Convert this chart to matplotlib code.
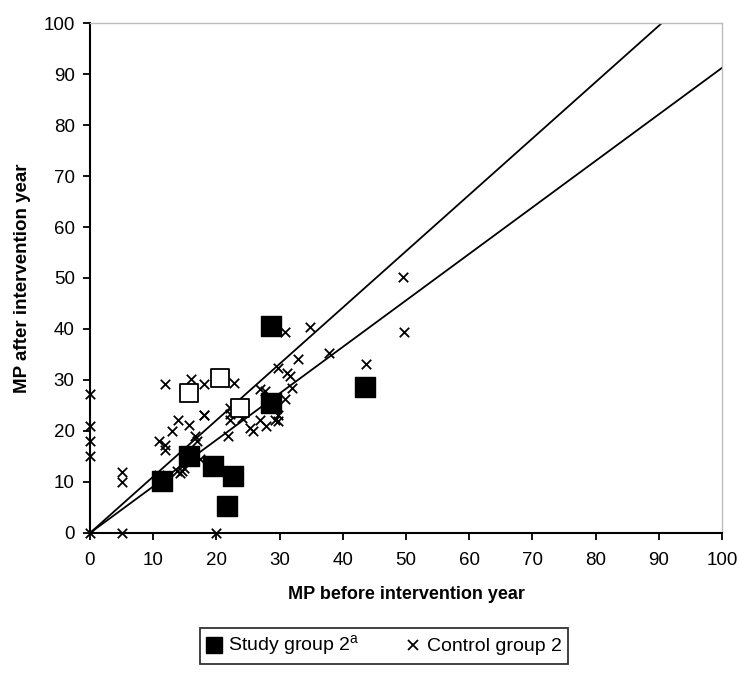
import matplotlib
matplotlib.use("Agg")
import matplotlib.pyplot as plt
from matplotlib.lines import Line2D

plt.rcParams['font.family'] = ['Liberation Sans', 'DejaVu Sans']

# Study group 2 (filled squares)
study_x = [11.4, 15.7, 19.4, 22.6, 21.7, 28.6, 28.6, 43.5]
study_y = [10.2, 15.1, 13.2, 11.2, 5.3, 25.5, 40.6, 28.6]

# Open squares
open_x = [15.6, 20.6, 23.8]
open_y = [27.5, 30.3, 24.5]

# Control group 2 (crosses)
ctrl_x = [0, 0, 0, 0, 0, 5, 5, 5, 20,
          10.9, 11.9, 11.9, 12.9, 13.9, 15.7, 18.0, 16.6, 16.9,
          13.7, 14.5, 14.8, 14.2, 17.4, 10.9,
          11.8, 16.0, 18.0, 22.8,
          18.0, 22.2, 22.2, 22.2, 24.0, 25.3, 25.8, 26.9, 27.9,
          29.2, 29.8, 29.8, 21.9, 26.9, 27.7, 30.9, 31.9,
          29.8, 31.1, 31.6, 32.9, 37.8, 30.9, 34.8, 43.7, 49.7, 49.6]
ctrl_y = [0, 15.0, 18.0, 20.9, 27.3, 0, 10.0, 12.0, 0,
          18.1, 17.3, 16.3, 19.9, 22.1, 21.1, 23.2, 19.0, 18.0,
          12.1, 12.1, 12.7, 11.8, 14.5, 11.4,
          29.3, 30.1, 29.3, 29.4,
          23.2, 24.5, 23.3, 22.2, 22.6, 20.6, 19.9, 22.2, 20.9,
          22.2, 23.2, 21.9, 19.0, 28.3, 27.8, 26.2, 28.5,
          32.4, 31.4, 30.8, 34.1, 35.2, 39.4, 40.4, 33.1, 39.4, 50.2]

line_slopes = [1.105, 0.912]

xticks = list(range(0, 101, 10))
yticks = list(range(0, 101, 10))

fig = plt.figure(figsize=(7.4, 6.75), dpi=100)
ax = fig.add_axes([0.1216, 0.2104, 0.854, 0.7555])

for s in line_slopes:
    ax.axline((0, 0), slope=s, color='black', lw=1.3, zorder=2)

ax.scatter(ctrl_x, ctrl_y, marker='x', s=46, color='black', linewidths=1.3,
           zorder=3, clip_on=False)
ax.scatter(study_x, study_y, marker='s', s=200, color='black', zorder=4,
           clip_on=False)
ax.scatter(open_x, open_y, marker='s', s=180, facecolor='white',
           edgecolor='black', linewidths=1.3, zorder=4, clip_on=False)

ax.set_xlim(0, 100)
ax.set_ylim(0, 100)
ax.set_xticks(xticks)
ax.set_yticks(yticks)
ax.tick_params(axis='both', direction='out', length=5, width=1.3,
               labelsize=13.5, colors='black')
ax.tick_params(axis='x', pad=9)
ax.tick_params(axis='y', pad=6)

for side in ['left', 'bottom']:
    ax.spines[side].set_color('black')
    ax.spines[side].set_linewidth(1.5)
for side in ['top', 'right']:
    ax.spines[side].set_color('#bdbdbd')
    ax.spines[side].set_linewidth(1.0)

ax.set_xlabel('MP before intervention year', fontsize=13, fontweight='bold',
              labelpad=12)
ax.set_ylabel('MP after intervention year', fontsize=13.5, fontweight='bold',
              labelpad=9)

handles = [
    Line2D([], [], marker='s', color='black', linestyle='none', markersize=12),
    Line2D([], [], marker='x', color='black', linestyle='none', markersize=6.5,
           markeredgewidth=1.3),
]
labels = ['Study group 2$^{\\mathregular{a}}$', 'Control group 2']
leg = fig.legend(handles, labels, loc='center', bbox_to_anchor=(0.519, 0.043),
                 ncol=2, frameon=True, fontsize=14, handlelength=0.8,
                 handletextpad=0.3, columnspacing=2.4, borderpad=0.3,
                 fancybox=False, edgecolor='black')
leg.get_frame().set_linewidth(1.3)

fig.savefig('out.png', dpi=100, facecolor='white')
